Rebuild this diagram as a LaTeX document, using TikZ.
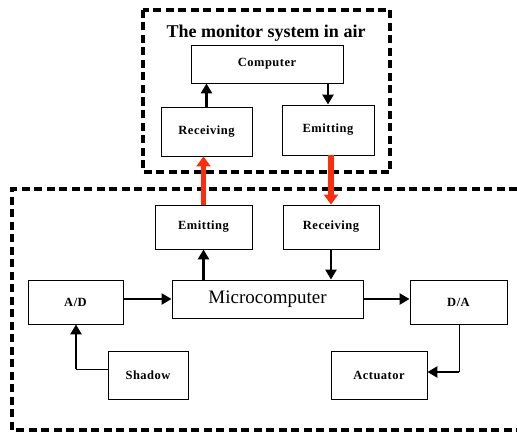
\documentclass[tikz,border=0pt]{standalone}
\usepackage{fontspec}
\setmainfont{Liberation Serif}
\usetikzlibrary{arrows.meta}
\definecolor{linkred}{RGB}{250,45,15}

\begin{document}
\begin{tikzpicture}[x=1pt, y=-1pt,
    blk/.style={draw, line width=0.9pt, inner sep=0pt, font=\bfseries\fontsize{12.5}{14}\selectfont\addfontfeatures{LetterSpace=4}},
    arr/.style={line width=2.6pt, -{Triangle[length=10pt, width=11pt]}},
    link/.style={line width=5.5pt, linkred, -{Triangle[length=10pt, width=14pt]}},
    frame/.style={line width=3.2pt, dash pattern=on 8pt off 4.5pt}
  ]
  \useasboundingbox (0,0) rectangle (517,436);

  % monitor system in air
  \draw[frame] (143,10) rectangle (390,172);
  \node[font=\bfseries\fontsize{18}{20}\selectfont] (title) at (266,33) {The monitor system in air};
  \node[blk, minimum width=152pt, minimum height=38pt] (computer) at (267,64) {Computer};
  \node[blk, minimum width=91pt, minimum height=49pt] (recvair) at (206.5,131.5) {Receiving};
  \node[blk, minimum width=92pt, minimum height=50pt] (emitair) at (328,130) {Emitting};

  % ground side
  \draw[frame] (517,189) -- (12,189) -- (12,430) -- (517,430);
  \node[blk, minimum width=97pt, minimum height=44pt] (emitgnd) at (203.5,227) {Emitting};
  \node[blk, minimum width=96pt, minimum height=44pt] (recvgnd) at (331,227) {Receiving};
  \node[blk, minimum width=191pt, minimum height=38pt, font=\fontsize{19}{22}\selectfont] (micro) at (267.5,299) {Microcomputer};
  \node[blk, minimum width=95pt, minimum height=44pt] (ad) at (75.5,302) {A/D};
  \node[blk, minimum width=97pt, minimum height=44pt] (da) at (458.5,302) {D/A};
  \node[blk, minimum width=80pt, minimum height=48pt] (shadow) at (148,375) {Shadow};
  \node[blk, minimum width=96pt, minimum height=48pt] (actuator) at (379,375) {Actuator};
  \coordinate (sbend) at (76,369);
  \coordinate (abend) at (459,372);

  % connections
  \draw[arr] (recvair.north) -- (recvair.north |- computer.south);
  \draw[arr] (computer.south -| emitair.north) -- (emitair.north);
  \draw[arr] (micro.north -| emitgnd.south) -- (emitgnd.south);
  \draw[arr] (recvgnd.south) -- (recvgnd.south |- micro.north);
  \draw[arr] (ad.east |- micro.west) -- (micro.west);
  \draw[arr] (micro.east) -- (micro.east -| da.west);
  \draw[line width=1pt] (shadow.west |- sbend) -- (sbend);
  \draw[arr] (sbend) -- (sbend |- ad.south);
  \draw[line width=1pt] (da.south -| abend) -- (abend);
  \draw[arr] (abend) -- (abend -| actuator.east);
  \draw[link] (emitgnd.north) -- (emitgnd.north |- recvair.south);
  \draw[link] (recvgnd.north |- emitair.south) -- (recvgnd.north);
\end{tikzpicture}
\end{document}
